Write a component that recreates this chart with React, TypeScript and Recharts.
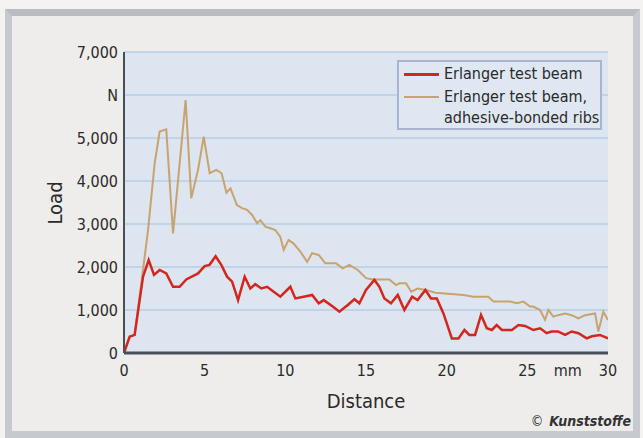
import React from 'react';
import { LineChart, Line, XAxis, YAxis, CartesianGrid, Legend } from 'recharts';

// Erlanger test beam (red)
const redDistance = [0, 0.35, 0.66, 1.18, 1.53, 1.86, 2.21, 2.62, 3.04, 3.45, 3.86, 4.59, 5.0, 5.3, 5.68, 6.03, 6.39, 6.7, 7.07, 7.48, 7.83, 8.14, 8.51, 8.87, 9.28, 9.69, 10.31, 10.62, 11.14, 11.66, 12.07, 12.38, 12.94, 13.35, 13.87, 14.28, 14.59, 15.0, 15.52, 15.83, 16.14, 16.55, 16.97, 17.38, 17.86, 18.2, 18.68, 19.03, 19.39, 19.8, 20.32, 20.73, 21.1, 21.41, 21.76, 22.13, 22.49, 22.8, 23.1, 23.42, 24.04, 24.45, 24.86, 25.37, 25.79, 26.2, 26.5, 26.9, 27.34, 27.75, 28.17, 28.68, 29.0, 29.5, 30];
const redLoad = [0, 380, 420, 1775, 2160, 1815, 1930, 1850, 1540, 1540, 1710, 1850, 2020, 2050, 2250, 2050, 1775, 1660, 1230, 1775, 1500, 1600, 1500, 1540, 1425, 1310, 1540, 1270, 1310, 1350, 1155, 1230, 1080, 960, 1115, 1250, 1155, 1465, 1700, 1540, 1270, 1155, 1350, 1000, 1310, 1230, 1465, 1270, 1270, 920, 340, 340, 535, 420, 420, 885, 575, 535, 650, 535, 535, 650, 630, 535, 575, 460, 500, 500, 420, 500, 460, 340, 390, 420, 340];

// Erlanger test beam, adhesive-bonded ribs (tan)
const tanDistance = [0, 0.35, 0.66, 1.1, 1.49, 1.9, 2.21, 2.62, 3.04, 3.82, 4.17, 4.59, 4.94, 5.31, 5.72, 6.05, 6.35, 6.6, 7.0, 7.32, 7.63, 7.94, 8.25, 8.45, 8.76, 9.07, 9.38, 9.69, 9.9, 10.2, 10.5, 10.93, 11.35, 11.66, 12.07, 12.48, 12.9, 13.14, 13.56, 13.97, 14.49, 15.0, 15.42, 16.45, 16.86, 17.07, 17.48, 17.8, 18.2, 18.72, 19.3, 21.04, 21.66, 22.59, 22.9, 23.93, 24.35, 24.76, 25.17, 25.37, 25.79, 26.1, 26.3, 26.61, 26.9, 27.34, 27.75, 28.17, 28.58, 29.2, 29.4, 29.71, 30];
const tanLoad = [0, 380, 420, 1700, 2860, 4410, 5150, 5200, 2780, 5880, 3600, 4260, 5030, 4180, 4260, 4180, 3730, 3830, 3440, 3370, 3330, 3210, 3020, 3090, 2940, 2900, 2860, 2700, 2400, 2630, 2550, 2360, 2120, 2320, 2280, 2085, 2085, 2085, 1970, 2050, 1930, 1740, 1710, 1710, 1580, 1620, 1620, 1425, 1500, 1465, 1400, 1350, 1310, 1310, 1195, 1195, 1155, 1195, 1080, 1080, 1000, 770, 1000, 845, 880, 920, 880, 805, 880, 920, 500, 960, 770];

const seriesNames = ['Erlanger test beam', 'Erlanger test beam,|adhesive-bonded ribs'];
const seriesColors = ['#d3271e', '#c9a36f'];

const xTicks = [0, 5, 10, 15, 20, 25, 27.5, 30];
const xTickLabels = ['0', '5', '10', '15', '20', '25', 'mm', '30'];
const yTicks = [0, 1000, 2000, 3000, 4000, 5000, 6000, 7000];
const yTickLabels = ['0', '1,000', '2,000', '3,000', '4,000', '5,000', 'N', '7,000'];

const redData = redDistance.map((d, i) => ({ x: d, y: redLoad[i] }));
const tanData = tanDistance.map((d, i) => ({ x: d, y: tanLoad[i] }));

const FONT = '"DejaVu Sans Condensed", "Liberation Sans Narrow", "DejaVu Sans", sans-serif';

const LegendBox = (props: any) => {
  const payload = props.payload || [];
  return (
    <div
      style={{
        width: 201,
        height: 66,
        border: '2px solid #aab4cc',
        background: '#dfe7f2',
        fontFamily: FONT,
        fontSize: 16,
        color: '#2a2a2a',
        position: 'relative',
        textAlign: 'left',
      }}
    >
      {payload.map((p: any, i: number) => {
        const lines = String(p.value).split('|');
        return (
          <div key={i} style={{ position: 'absolute', left: 5, top: i === 0 ? 1 : 24, lineHeight: '21px' }}>
            <div style={{ position: 'absolute', left: 0, top: 10, width: 35, height: i === 0 ? 3 : 2, background: p.color }} />
            <div style={{ marginLeft: 40, whiteSpace: 'nowrap' }}>
              {lines.map((l: string, k: number) => (
                <div key={k}>{l}</div>
              ))}
            </div>
          </div>
        );
      })}
    </div>
  );
};

export default function App() {
  return (
    <div style={{ position: 'absolute', left: 0, top: 0, width: 643, height: 438, background: '#f4f3f1', overflow: 'hidden' }}>
      <div
        style={{
          position: 'absolute',
          left: 5,
          top: 9,
          width: 635 - 14,
          height: 429 - 14,
          border: '7px solid #c6cacf',
          borderTopColor: '#b9bdc2',
          background: '#eeedeb',
        }}
      />
      <div style={{ position: 'absolute', left: 0, top: 0 }}>
        <LineChart width={643} height={438} margin={{ top: 52, right: 35, left: 0, bottom: 0 }}>
          <CartesianGrid fill="#dce5f0" stroke="#b8cce3" strokeWidth={1.5} vertical={false} />
          <XAxis
            type="number"
            dataKey="x"
            domain={[0, 30]}
            ticks={xTicks}
            tickFormatter={(v: number) => xTickLabels[xTicks.indexOf(v)]}
            height={85}
            allowDataOverflow
            tickLine={false}
            tickSize={6}
            tickMargin={6}
            axisLine={{ stroke: '#4a4f56', strokeWidth: 3 }}
            tick={{ fontFamily: FONT, fontSize: 16, fill: '#2a2a2a' }}
            label={{
              content: (p: any) => {
                const vb = p.viewBox;
                return (
                  <text x={vb.x + vb.width / 2} y={408} textAnchor="middle" fontFamily={FONT} fontSize={20} fill="#2a2a2a">
                    Distance
                  </text>
                );
              },
            }}
          />
          <YAxis
            type="number"
            dataKey="y"
            domain={[0, 7000]}
            ticks={yTicks}
            tickFormatter={(v: number) => yTickLabels[yTicks.indexOf(v)]}
            width={124}
            tickLine={false}
            tickSize={4}
            tickMargin={2}
            axisLine={{ stroke: '#4a4f56', strokeWidth: 2 }}
            tick={{ fontFamily: FONT, fontSize: 16, fill: '#2a2a2a' }}
            label={{
              content: () => (
                <text
                  x={62}
                  y={203}
                  transform="rotate(-90 62 203)"
                  textAnchor="middle"
                  fontFamily={FONT}
                  fontSize={20}
                  fill="#2a2a2a"
                >
                  Load
                </text>
              ),
            }}
          />
          <Legend
            layout="horizontal"
            verticalAlign="middle"
            align="center"
            content={<LegendBox />}
            wrapperStyle={{ position: 'absolute', left: 397, top: 60, width: 205, height: 70 }}
          />
          <Line
            data={tanData}
            dataKey="y"
            name={seriesNames[1]}
            stroke={seriesColors[1]}
            strokeWidth={2}
            dot={false}
            isAnimationActive={false}
          />
          <Line
            data={redData}
            dataKey="y"
            name={seriesNames[0]}
            stroke={seriesColors[0]}
            strokeWidth={2.5}
            dot={false}
            isAnimationActive={false}
          />
        </LineChart>
      </div>
      <div
        style={{
          position: 'absolute',
          right: 12,
          top: 413,
          fontFamily: FONT,
          fontSize: 14,
          fontWeight: 'bold',
          fontStyle: 'italic',
          color: '#333',
          whiteSpace: 'nowrap',
        }}
      >
        <span style={{ fontWeight: 'normal', fontStyle: 'normal', marginRight: 6 }}>©</span>Kunststoffe
      </div>
    </div>
  );
}
